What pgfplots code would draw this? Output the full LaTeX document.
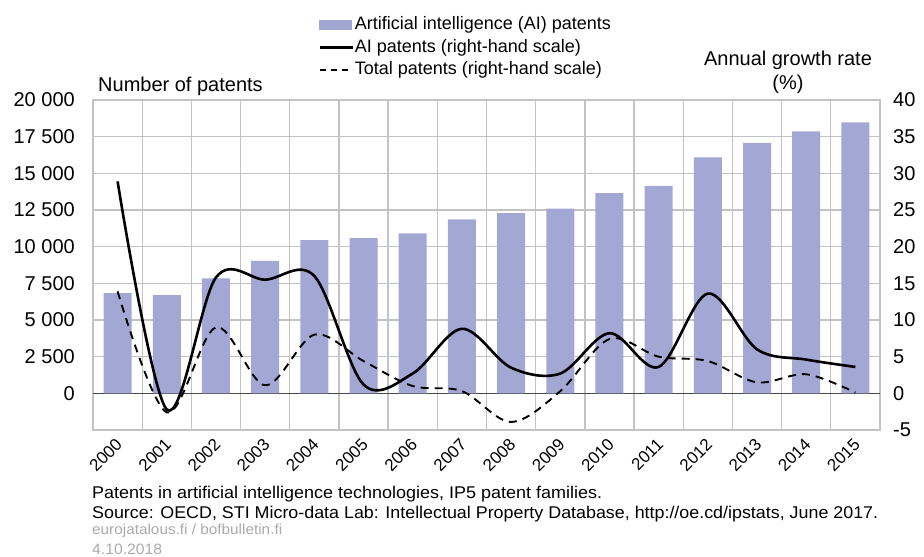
\documentclass[border=0pt]{standalone}
\usepackage{fontspec}
\setmainfont{Liberation Sans}
\usepackage{graphicx}
\usepackage{pgfplots}
\pgfplotsset{compat=1.18}
\definecolor{barcol}{RGB}{163,167,212}
\definecolor{gridcol}{RGB}{195,195,195}
\definecolor{zerocol}{RGB}{70,70,70}
\definecolor{graytxt}{RGB}{170,170,170}

\pgfplotstableread{
year bars
2000 6830
2001 6690
2002 7830
2003 9030
2004 10440
2005 10580
2006 10900
2007 11860
2008 12290
2009 12600
2010 13650
2011 14150
2012 16090
2013 17070
2014 17860
2015 18480
}\bardata

\pgfplotstableread{
year ai total
2000 28.9 13.9
2001 -2.2 -2.6
2002 15.8 9.0
2003 15.5 1.1
2004 16.0 8.0
2005 1.2 4.4
2006 2.7 1.0
2007 8.8 0.3
2008 3.5 -3.9
2009 2.7 0.3
2010 8.2 7.4
2011 3.6 5.0
2012 13.6 4.4
2013 6.0 1.5
2014 4.6 2.6
2015 3.6 0.1
}\growth

\begin{document}
\begin{tikzpicture}
\useasboundingbox (-93pt,-127pt) rectangle (831pt,430pt);
\begin{axis}[
  scale only axis, width=787pt, height=330pt,
  at={(0pt,0pt)}, anchor=south west,
  xmin=1999.5, xmax=2015.5, ymin=-2500, ymax=20000,
  xtick={2000,2001,2002,2003,2004,2005,2006,2007,2008,2009,2010,2011,2012,2013,2014,2015},
  minor xtick={2000.5,2001.5,2002.5,2003.5,2004.5,2005.5,2006.5,2007.5,2008.5,2009.5,2010.5,2011.5,2012.5,2013.5,2014.5},
  xminorgrids=true,
  ytick={0,2500,5000,7500,10000,12500,15000,17500,20000},
  ymajorgrids=true,
  scaled y ticks=false,
  major tick length=0pt, minor tick length=0pt,
  grid style={draw=gridcol, line width=1.3pt},
  minor grid style={draw=gridcol, line width=1.3pt},
  major grid style={draw=gridcol, line width=1.3pt},
  axis line style={draw=gridcol, line width=1.3pt},
  extra y ticks={0}, extra y tick labels={},
  extra y tick style={grid=major, major grid style={draw=zerocol, line width=1.2pt}},
  /pgf/number format/assume math mode=true,
  y tick label style={font=\fontsize{20}{20}\selectfont, anchor=east, inner sep=0pt, xshift=-18pt,
    /pgf/number format/1000 sep={\ }},
  x tick label style={font=\fontsize{17}{17}\selectfont, rotate=45, anchor=north east, inner sep=1pt,
    xshift=-6pt, yshift=-2pt, /pgf/number format/1000 sep={}},
]
\addplot[ybar, bar width=0.57, fill=barcol, draw=none] table[x=year, y=bars] {\bardata};
\end{axis}
\begin{axis}[
  scale only axis, width=787pt, height=330pt,
  at={(0pt,0pt)}, anchor=south west,
  xmin=1999.5, xmax=2015.5, ymin=-5, ymax=40,
  hide x axis, axis y line*=right, y axis line style={draw=none},
  ytick={-5,0,5,10,15,20,25,30,35,40}, major tick length=0pt,
  /pgf/number format/assume math mode=true,
  y tick label style={font=\fontsize{20}{20}\selectfont, anchor=west, inner sep=0pt, xshift=13pt},
  legend style={draw=none, fill=none, at={(axis description cs:0.2859,1.2620)}, anchor=north west,
    font=\fontsize{18}{18}\selectfont, row sep=0.5pt, inner sep=0pt,
    nodes={inner sep=1pt, text height=15pt, text depth=5pt}},
  legend cell align=left,
]
\addlegendimage{legend image code/.code={\fill[barcol] (0pt,-4.5pt) rectangle (32pt,4.5pt);}}
\addlegendentry{Artificial intelligence (AI) patents}
\addplot[black, line width=2.6pt, smooth, tension=0.55,
  legend image code/.code={\draw[black, line width=2.6pt] (0pt,0pt) -- (33pt,0pt);}]
  table[x=year, y=ai] {\growth};
\addlegendentry{AI patents (right-hand scale)}
\addplot[black, line width=1.9pt, smooth, tension=0.55, dash pattern=on 8pt off 6pt,
  legend image code/.code={\draw[black, line width=1.9pt, dash pattern=on 6pt off 5pt] (0pt,0pt) -- (33pt,0pt);}]
  table[x=year, y=total] {\growth};
\addlegendentry{Total patents (right-hand scale)}
\end{axis}
\node[anchor=base west, font=\fontsize{20}{20}\selectfont, inner sep=0pt] at (5pt,338pt) {Number of patents};
\node[anchor=base, font=\fontsize{20}{20}\selectfont, inner sep=0pt] at (695pt,364pt) {Annual growth rate};
\node[anchor=base, font=\fontsize{20}{20}\selectfont, inner sep=0pt] at (695pt,340pt) {(\%)};
\node[anchor=base west, inner sep=0pt] at (-1pt,-68pt) {\resizebox{510pt}{\height}{\fontsize{17}{17}\selectfont Patents in artificial intelligence technologies, IP5 patent families.}};
\node[anchor=base west, inner sep=0pt] at (-1pt,-88pt) {\resizebox{786pt}{\height}{\fontsize{17}{17}\selectfont Source: OECD, STI Micro-data Lab: Intellectual Property Database, http://oe.cd/ipstats, June 2017.}};
\node[anchor=base west, inner sep=0pt, text=graytxt] at (-1pt,-104pt) {\resizebox{190pt}{\height}{\fontsize{14.5}{14.5}\selectfont eurojatalous.fi / bofbulletin.fi}};
\node[anchor=base west, inner sep=0pt, text=graytxt] at (-1pt,-124pt) {\resizebox{70pt}{\height}{\fontsize{15}{15}\selectfont 4.10.2018}};
\end{tikzpicture}
\end{document}
